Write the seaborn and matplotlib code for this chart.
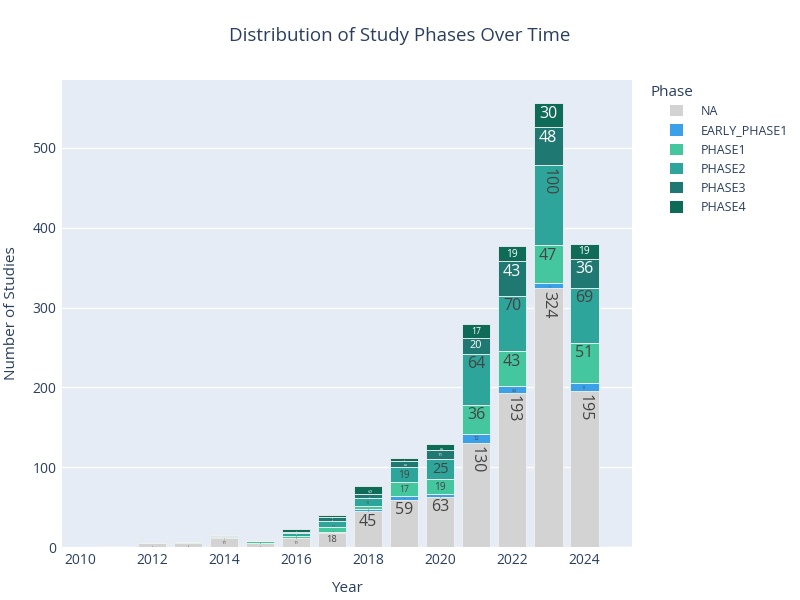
import pandas as pd
import matplotlib.pyplot as plt
from matplotlib.patches import Patch
import seaborn as sns

# values
years = list(range(2011, 2026))
phases = ['NA', 'EARLY_PHASE1', 'PHASE1', 'PHASE2', 'PHASE3', 'PHASE4']
na = [1, 5, 5, 11, 5, 11, 18, 45, 59, 63, 130, 193, 324, 195, 0]
early_phase1 = [0, 0, 0, 0, 0, 0, 1, 3, 5, 3, 12, 9, 7, 10, 0]
phase1 = [0, 0, 1, 1, 3, 3, 6, 3, 17, 19, 36, 43, 47, 51, 1]
phase2 = [0, 0, 0, 2, 0, 3, 7, 10, 19, 25, 64, 70, 100, 69, 0]
phase3 = [0, 0, 0, 1, 0, 2, 5, 6, 8, 11, 20, 43, 48, 36, 0]
phase4 = [0, 0, 0, 0, 0, 4, 3, 9, 4, 8, 17, 19, 30, 19, 0]

colors = ['#d3d3d3', '#3aa0e8', '#44c69e', '#2ea59a', '#1f7872', '#0d6b57']
text_colors = ['#444444', '#444444', '#444444', '#444444', 'white', 'white']

counts = [na, early_phase1, phase1, phase2, phase3, phase4]
rows = []
for phase, vals in zip(phases, counts):
    for yr, v in zip(years, vals):
        rows.append({'Year': yr, 'Phase': phase, 'Count': v})
df = pd.DataFrame(rows)

sns.set_style('darkgrid', {'axes.facecolor': '#E5ECF6', 'grid.color': 'white'})
plt.rcParams['font.family'] = ['Open Sans', 'DejaVu Sans']
fig = plt.figure(figsize=(8, 6), dpi=100)
ax = fig.add_axes([0.0775, 0.0883, 0.7125, 0.7784])

xmin, xmax = 2009.5, 2025.33

# seaborn stacks the last hue level at the bottom, so reverse the order
sns.histplot(data=df, x='Year', weights='Count', hue='Phase',
             hue_order=phases[::-1], palette=colors[::-1],
             multiple='stack', discrete=True, shrink=0.8,
             element='bars', alpha=1, edgecolor='#f2f2f2', linewidth=0.6,
             legend=False, ax=ax)

ax.set_xlim(xmin, xmax)
ax.set_ylim(0, 585)
ax.set_xticks(range(2010, 2025, 2))
ax.set_yticks(range(0, 600, 100))
ax.grid(axis='x', visible=False)
ax.grid(axis='y', color='white', linewidth=1)
for s in ax.spines.values():
    s.set_visible(False)
ax.tick_params(colors='#2a3f5f', labelsize=10, length=0, pad=4)
ax.set_xlabel('Year', fontsize=11, color='#2a3f5f', labelpad=10)
ax.set_ylabel('Number of Studies', fontsize=11, color='#2a3f5f', labelpad=10)

# segment labels, shrunk to fit like plotly's inside text
fig.canvas.draw()
px_per_unit = ax.bbox.height / 585
bar_px = 0.8 * ax.bbox.width / (xmax - xmin)
pad = 2.5 / px_per_unit
for i, yr in enumerate(years):
    base = 0
    for j, vals in enumerate(counts):
        v = vals[i]
        if v == 0:
            continue
        top = base + v
        h = v * px_per_unit
        txt = str(v)
        n = len(txt)
        fs_h = min(16, (h - 4) / 1.1, (bar_px - 4) / (0.6 * n))
        fs_r = min(16, (bar_px - 4) / 1.1, (h - 4) / (0.6 * n))
        rot = fs_r > fs_h
        fs = max(fs_r if rot else fs_h, 2)
        ax.text(yr, top - pad, txt, ha='center', va='top',
                rotation=-90 if rot else 0, fontsize=fs * 0.72,
                color=text_colors[j], clip_on=True)
        base = top

fig.suptitle('Distribution of Study Phases Over Time', x=0.5, y=0.955,
             fontsize=13.5, color='#2a3f5f')

fig.text(651 / 800, 1 - 93 / 600, 'Phase', fontsize=11, color='#2a3f5f',
         va='center', ha='left')
handles = [Patch(facecolor=c, edgecolor='none') for c in colors]
leg = fig.legend(handles, phases, loc='upper left',
                 bbox_to_anchor=(670 / 800, 1 - 105 / 600), frameon=False,
                 fontsize=9, borderpad=0, borderaxespad=0,
                 handlelength=1.0, handleheight=1.0, handletextpad=1.5,
                 labelspacing=0.5)
for t in leg.get_texts():
    t.set_color('#2a3f5f')

fig.savefig('out.png', dpi=100)
